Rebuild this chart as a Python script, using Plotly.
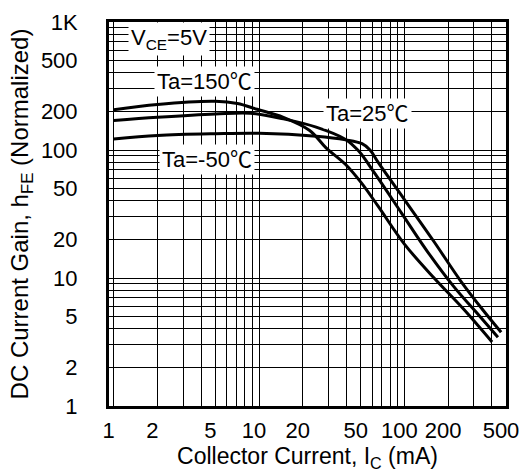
import plotly.graph_objects as go
import math

# ---- data ----
ic_150 = [1.0, 2.0, 5.0, 7.1, 9.7, 14.7, 22.3, 28.9, 39.4, 50.6, 65.9, 100, 160, 255, 401]
hfe_150 = [206, 227, 240, 231, 208, 180, 142, 104, 77, 55.3, 36.4, 18.4, 10.0, 5.72, 3.16]

ic_25 = [1.0, 2.0, 5.0, 8.7, 14.7, 24.7, 39.4, 48.5, 62.9, 95.3, 144, 218, 331, 440]
hfe_25 = [170, 180, 191, 194, 175, 151, 121, 98, 65, 32.3, 16.1, 8.6, 5.0, 3.45]

ic_m50 = [1.0, 2.0, 5.0, 10, 24.7, 39.4, 51.1, 58, 66, 100, 160, 242, 348, 463]
hfe_m50 = [122, 130, 134, 135, 128, 120, 112, 100, 80, 41, 19.2, 9.6, 5.6, 3.77]

x_tick_values = [1, 2, 5, 10, 20, 50, 100, 200, 500]
x_tick_labels = ["1", "2", "5", "10", "20", "50", "100", "200", "500"]
y_tick_values = [1, 2, 5, 10, 20, 50, 100, 200, 500, 1000]
y_tick_labels = ["1", "2", "5", "10", "20", "50", "100", "200", "500", "1K"]

x_min, x_max = 0.928, 500
y_min, y_max = 1, 1000

FONT = "Liberation Sans, Arial, sans-serif"


def grid_values(vmin, vmax):
    vals = []
    dec = 1
    while dec <= vmax:
        for m in range(1, 10):
            v = m * dec
            if vmin <= v <= vmax * 1.0001:
                vals.append(v)
        dec *= 10
    return vals


def tick_setup(vmin, vmax, labeled_vals, labeled_text):
    vals = grid_values(max(vmin, 1), vmax)
    lab = dict(zip(labeled_vals, labeled_text))
    text = [lab.get(v, "") for v in vals]
    return vals, text


xv, xt = tick_setup(x_min, x_max, x_tick_values, x_tick_labels)
yv, yt = tick_setup(y_min, y_max, y_tick_values, y_tick_labels)

fig = go.Figure()
line_style = dict(color="black", width=3, shape="spline", smoothing=1.0)
for xs, ys, name in [(ic_150, hfe_150, "Ta=150℃"), (ic_25, hfe_25, "Ta=25℃"), (ic_m50, hfe_m50, "Ta=-50℃")]:
    fig.add_trace(go.Scatter(x=xs, y=ys, mode="lines", line=line_style, name=name,
                             showlegend=False, hoverinfo="skip"))

fig.update_xaxes(
    type="log", range=[math.log10(x_min), math.log10(x_max)],
    tickmode="array", tickvals=xv, ticktext=xt,
    showgrid=True, gridcolor="black", gridwidth=1,
    showline=True, linecolor="black", linewidth=3, mirror=True,
    ticks="", ticklabelstandoff=3, ticklabelshift=-5,
    tickfont=dict(family=FONT, size=22, color="black"),
    title=dict(text="Collector Current, I<sub>C</sub> (mA)",
               font=dict(family=FONT, size=23, color="black"), standoff=2),
    zeroline=False,
)
fig.update_yaxes(
    type="log", range=[math.log10(y_min), math.log10(y_max)],
    tickmode="array", tickvals=yv, ticktext=yt,
    showgrid=True, gridcolor="black", gridwidth=1,
    showline=True, linecolor="black", linewidth=3, mirror=True,
    ticks="", ticklabelstandoff=24,
    tickfont=dict(family=FONT, size=22, color="black"),
    title=dict(text="DC Current Gain, h<sub>FE</sub> (Normalized)",
               font=dict(family=FONT, size=24, color="black"), standoff=6),
    zeroline=False,
)

ann_font = dict(family="Liberation Sans, Noto Sans CJK SC, sans-serif", size=22, color="black")
for text, x, y in [("V<sub>CE</sub>=5V", 0.151, 0.956),
                   ("Ta=150℃", 0.240, 0.846),
                   ("Ta=25℃", 0.652, 0.763),
                   ("Ta=-50℃", 0.2475, 0.643)]:
    fig.add_annotation(text=text, x=x, y=y, xref="paper", yref="paper",
                       showarrow=False, font=ann_font, bgcolor="white",
                       borderpad=2, xanchor="center", yanchor="middle")

fig.update_layout(
    width=529, height=476,
    margin=dict(l=109, r=16, t=10, b=70),
    paper_bgcolor="white", plot_bgcolor="white",
    font=dict(family=FONT, color="black"),
)

fig.write_html("out.html")
